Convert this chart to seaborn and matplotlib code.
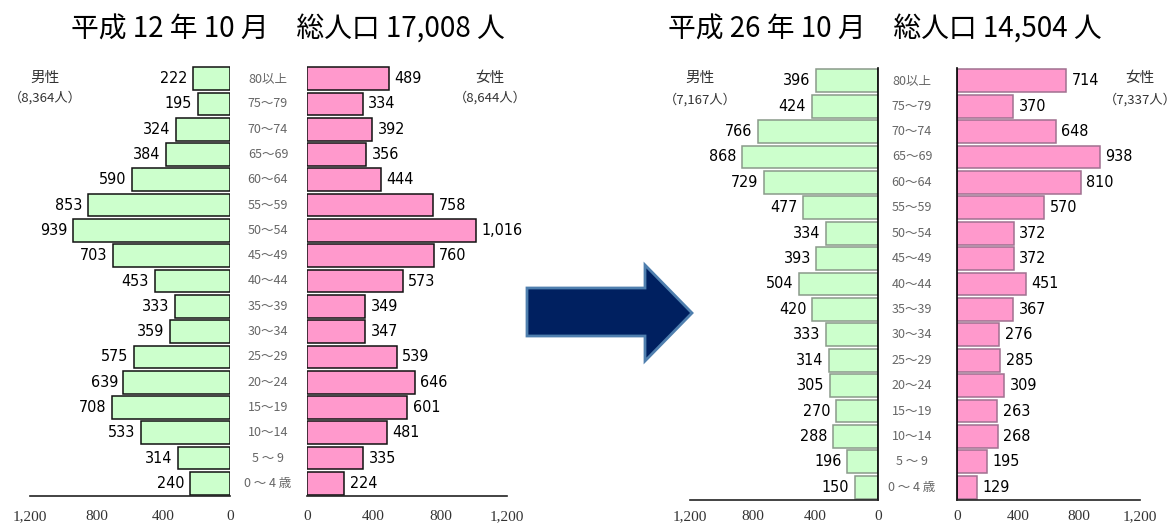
import pandas as pd
import matplotlib.pyplot as plt
import seaborn as sns
from matplotlib.patches import Polygon

ages = ['80以上', '75～79', '70～74', '65～69', '60～64', '55～59', '50～54',
        '45～49', '40～44', '35～39', '30～34', '25～29', '20～24', '15～19',
        '10～14', '5 ～ 9', '0 ～ 4 歳']

male_h12 = [222, 195, 324, 384, 590, 853, 939, 703, 453, 333, 359, 575, 639, 708, 533, 314, 240]
female_h12 = [489, 334, 392, 356, 444, 758, 1016, 760, 573, 349, 347, 539, 646, 601, 481, 335, 224]
male_h26 = [396, 424, 766, 868, 729, 477, 334, 393, 504, 420, 333, 314, 305, 270, 288, 196, 150]
female_h26 = [714, 370, 648, 938, 810, 570, 372, 372, 451, 367, 276, 285, 309, 263, 268, 195, 129]

titles = ['平成 12 年 10 月　総人口 17,008 人', '平成 26 年 10 月　総人口 14,504 人']
male_totals = ['（8,364人）', '（7,167人）']
female_totals = ['（8,644人）', '（7,337人）']
ticks = [0, 400, 800, 1200]
tick_labels = ['0', '400', '800', '1,200']

sns.set_theme(style='white')
plt.rcParams['font.family'] = ['Noto Sans CJK JP', 'DejaVu Sans']

W, H = 1176, 527
fig = plt.figure(figsize=(W / 100, H / 100), dpi=100)

GREEN = '#ccffcc'
PINK = '#ff99cc'
SERIF = ['Liberation Serif', 'DejaVu Serif']


def px_axes(x0, x1, y0, y1):
    # pixel box -> figure fraction
    return fig.add_axes([x0 / W, 1 - y1 / H, (x1 - x0) / W, (y1 - y0) / H])


def draw_side(ax, values, color, edge, male, zero_line, pad):
    df = pd.DataFrame({'age': ages, 'n': values})
    sns.barplot(data=df, y='age', x='n', orient='h', color=color, width=0.9,
                edgecolor=edge, linewidth=1.1, saturation=1, ax=ax)
    ax.set_xlim(1200, 0) if male else ax.set_xlim(0, 1200)
    ax.set_ylim(len(ages) - 0.5, -0.5)
    for i, v in enumerate(values):
        ax.annotate(f'{v:,}', (v, i), xytext=(-4 if male else 4, 0),
                    textcoords='offset points', va='center',
                    ha='right' if male else 'left', fontsize=11.5,
                    family='DejaVu Sans', fontstretch='condensed',
                    color='black')
    ax.set_xlabel('')
    ax.set_ylabel('')
    ax.set_yticks([])
    ax.set_xticks(ticks)
    ax.set_xticklabels(tick_labels, family=SERIF, fontsize=11, color='#333333')
    ax.tick_params(axis='x', direction='in', length=5, width=1, color='#333333', pad=pad)
    for s in ['top', 'left', 'right']:
        ax.spines[s].set_visible(False)
    ax.spines['bottom'].set_color('#222222')
    ax.spines['bottom'].set_linewidth(1.2)
    if zero_line:
        side = 'right' if male else 'left'
        ax.spines[side].set_visible(True)
        ax.spines[side].set_color('black')
        ax.spines[side].set_linewidth(1.2)
    ax.patch.set_alpha(0)


# left pyramid (H12)
ax1 = px_axes(30, 230, 66, 496)
draw_side(ax1, male_h12, GREEN, '#111111', True, False, 10)
ax2 = px_axes(307, 507, 66, 496)
draw_side(ax2, female_h12, PINK, '#111111', False, False, 10)

# right pyramid (H26)
ax3 = px_axes(690, 878, 68, 500)
draw_side(ax3, male_h26, GREEN, '#8a9a8a', True, True, 7)
ax4 = px_axes(957, 1140, 68, 500)
draw_side(ax4, female_h26, PINK, '#a07090', False, True, 7)

# age labels between the bars
for ax, xc in [(ax1, 268), (ax3, 912)]:
    for i, a in enumerate(ages):
        y = ax.transData.transform((0, i))[1]
        fig.text(xc / W, y / H, a, ha='center', va='center', fontsize=9,
                 color='#666666', transform=fig.transFigure)

# titles
fig.text(288 / W, 1 - 30 / H, titles[0], ha='center', va='center', fontsize=20, color='black')
fig.text(885 / W, 1 - 30 / H, titles[1], ha='center', va='center', fontsize=20, color='black')

# sex labels
for xc, y1, y2, t1, t2 in [(45, 78, 98, '男性', male_totals[0]),
                           (490, 78, 98, '女性', female_totals[0]),
                           (700, 78, 100, '男性', male_totals[1]),
                           (1140, 78, 100, '女性', female_totals[1])]:
    fig.text(xc / W, 1 - y1 / H, t1, ha='center', va='center', fontsize=10.5, color='#333333')
    fig.text(xc / W, 1 - y2 / H, t2, ha='center', va='center', fontsize=9.5, color='#333333')

# arrow between the pyramids
pts = [(527, 288), (645, 288), (645, 265), (692, 313), (645, 361), (645, 336), (527, 336)]
arrow = Polygon([(x / W, 1 - y / H) for x, y in pts], closed=True,
                facecolor='#002060', edgecolor='#4f7fae', linewidth=2,
                transform=fig.transFigure)
fig.add_artist(arrow)

fig.savefig('out.png', dpi=100)
